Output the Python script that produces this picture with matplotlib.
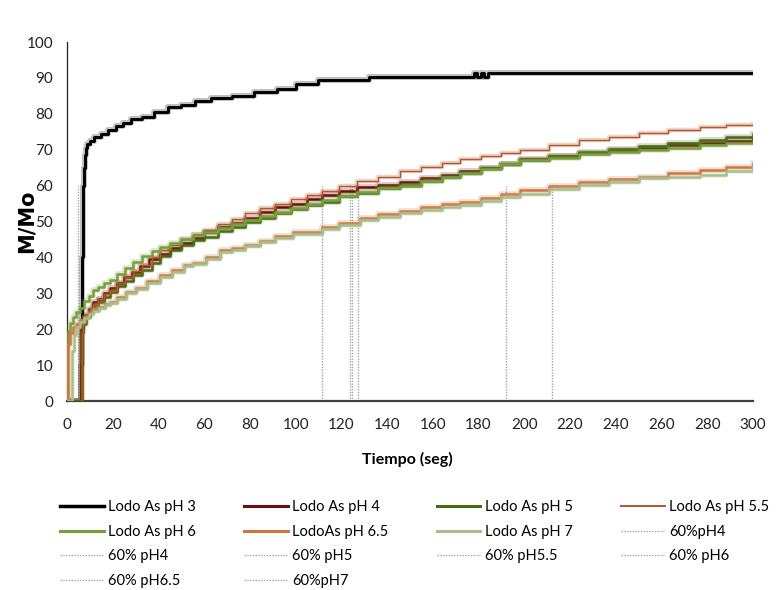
import matplotlib
matplotlib.use("Agg")
import matplotlib.pyplot as plt
import matplotlib.patheffects as pe
from matplotlib.lines import Line2D

plt.rcParams['font.family'] = ['Lato', 'DejaVu Sans']

# Lodo As pH 3
t_ph3 = [0, 6.0, 6.2, 6.4, 6.6, 6.8, 7.0, 7.3, 7.7, 8.2, 8.8, 10, 12, 15, 18, 21.5, 24.5, 28, 33, 38,
         44, 50, 56, 63, 72, 82, 92, 100, 110, 132, 178, 179.5, 181, 182.5, 184, 186, 300]
v_ph3 = [0, 0, 10, 25, 40, 52, 60, 65, 68.5, 70.5, 71.5, 72.5, 73.5, 74.5, 75.5, 76.5, 77.5, 78.5, 79, 80.5,
         82, 82.5, 83.5, 84.5, 85, 86, 87, 88.3, 89.4, 90.3, 91.3, 90.3, 91.3, 90.3, 91.3, 91.3, 91.3]

# Lodo As pH 4
t_ph4 = [0, 5.8, 6.2, 7, 8, 9.5, 11.5, 13.5, 16, 18.8, 22, 25, 28.5, 32, 36, 40.7, 45, 50, 55, 60,
         66, 72, 78, 84.4, 91, 98, 105, 111.5, 119, 127, 136, 145.6, 155, 164, 172, 181, 190, 198,
         211, 224, 237, 250, 263, 277, 288, 300]
v_ph4 = [0, 0, 20, 22.5, 24, 25.5, 27.5, 28.5, 30, 31.5, 33, 34.5, 36, 37.5, 39.5, 41, 42.5, 44, 45.5, 47,
         48.5, 49.5, 51, 52.7, 54, 55, 56.3, 57.4, 58.5, 59.5, 60.3, 61, 62, 63, 64, 65, 66, 67.5,
         68.3, 69.2, 70, 70.5, 71.3, 72, 72.5, 73]

# Lodo As pH 5
t_ph5 = [0, 6.0, 6.4, 7.2, 8.5, 10, 11.5, 13.5, 16, 18.8, 22, 25.5, 29, 33, 37, 40.7, 45, 50, 55, 60,
         66, 72, 78, 84.4, 91, 98, 105, 111.5, 119, 127, 136, 145.6, 155, 164, 172, 181, 190, 198,
         211, 224, 237, 250, 263, 277, 288, 300]
v_ph5 = [0, 0, 19, 21.5, 23.5, 25, 26.5, 27.5, 29, 30.5, 32, 33.5, 35, 36.5, 38.5, 40.5, 42, 43.5, 44.8, 45.8,
         47.3, 48.5, 49.8, 51, 52.3, 53.5, 54.5, 55.5, 57, 58, 59.2, 60.2, 61.3, 62.5, 63.5, 64.8, 66, 67.2,
         68.3, 69.3, 70.3, 71, 71.8, 72.7, 73.5, 74.3]

# Lodo As pH 5.5
t_ph55 = [0, 6.0, 6.4, 7.2, 8.5, 10, 11.5, 13.5, 16, 18.8, 22, 25.5, 29, 33, 37, 40.7, 45, 50, 55, 60,
          66, 72, 78, 84.4, 91, 98, 105, 111.5, 119, 127, 136, 145.6, 155, 164, 172, 181, 190, 198,
          211, 224, 237, 250, 263, 277, 288, 300]
v_ph55 = [0, 0, 19, 22, 24, 25.5, 27, 28.3, 29.8, 31, 32.8, 34.5, 36.2, 38, 40, 42, 43.5, 45, 46.4, 47.5,
          49.3, 50.8, 52.3, 53.7, 55, 56.3, 57.5, 58.5, 60, 61.3, 62.5, 64, 65.2, 66.4, 67.5, 68.3, 69.2, 70,
          71.3, 72.6, 73.6, 74.6, 75.4, 76.2, 76.8, 77.3]

# Lodo As pH 6
t_ph6 = [0, 0.1, 0.5, 1.3, 2.5, 4, 5.7, 7.5, 9.5, 11.5, 13.5, 16, 18.8, 22, 25.5, 29, 33, 37, 40.7, 45,
         50, 55, 60, 66, 72, 78, 84.4, 91, 98, 105, 111.5, 119, 127, 136, 145.6, 155, 164, 172, 181,
         190, 198, 211, 224, 237, 250, 263, 277, 288, 300]
v_ph6 = [0, 16, 19.5, 21.7, 23.3, 24.7, 26, 27.8, 29.3, 30.9, 31.8, 32.8, 33.7, 35.5, 37, 38.8, 40.3, 41.8, 43, 44,
         45.2, 46.2, 47, 48.2, 49.2, 50.3, 51.5, 52.6, 53.8, 55, 56, 57.2, 58.3, 59.2, 60, 61.2, 62.4, 63.5, 64.7,
         66, 67.2, 67.8, 68.7, 69.4, 70, 70.6, 71.3, 71.8, 72.2]

# LodoAs pH 6.5
t_ph65 = [0, 0.3, 0.6, 1.3, 2.5, 4, 5.7, 7.5, 9.5, 11.5, 14, 16.5, 18.8, 22, 26, 30, 35, 40.7, 46, 51,
          55, 61, 67, 72, 78, 84.4, 91, 99, 111.5, 119, 128, 136, 145.6, 155, 164, 172, 181, 190, 198,
          211, 224, 237, 250, 263, 277, 288, 300]
v_ph65 = [0, 8, 16, 19, 20.5, 21.5, 22.5, 23.5, 24.5, 25.5, 26.3, 27, 27.5, 29, 30.5, 31.5, 33.5, 35, 36.5, 38,
          38.5, 40, 42, 42.5, 43.5, 44.5, 46, 47, 48.5, 49.5, 51, 52, 53, 54, 54.8, 55.5, 56.5, 57.7, 58.8,
          60, 61.1, 61.8, 62.5, 63.4, 64.3, 65.2, 66.2]

# Lodo As pH 7
t_ph7 = [0, 2.0, 2.4, 3, 4, 5.7, 7.5, 9.5, 11.5, 14, 16.5, 18.8, 22, 26, 30, 35, 40.7, 46, 51, 55,
         61, 67, 72, 78, 84.4, 91, 99, 111.5, 119, 128, 136, 145.6, 155, 164, 172, 181, 190, 198, 211,
         224, 237, 250, 263, 277, 288, 300]
v_ph7 = [0, 0, 14, 18.5, 20.5, 22, 23.2, 24.3, 25.2, 26, 26.7, 27.2, 28.5, 30, 31.2, 33, 34.6, 36, 37.5, 38.2,
         39.5, 41.5, 42.2, 43.2, 44.2, 45.4, 46.5, 48, 49, 50.3, 51.3, 52.3, 53.3, 54, 54.7, 55.6, 56.8, 57.8, 59,
         60.2, 61, 62, 62.5, 63, 64, 65.1]

# 60% markers (time where each run reaches 60)
t60_labels = ['60%pH4', '60% pH4', '60% pH5', '60% pH5.5', '60% pH6', '60% pH6.5', '60%pH7']
t60_values = [4.7, 123.8, 127.4, 111.5, 124.5, 192.0, 212.2]
level60 = 60

series = [
    ('Lodo As pH 3', t_ph3, v_ph3, '#000000', 2.1),
    ('Lodo As pH 4', t_ph4, v_ph4, '#6b0f0a', 1.8),
    ('Lodo As pH 5', t_ph5, v_ph5, '#4a6a12', 1.8),
    ('Lodo As pH 5.5', t_ph55, v_ph55, '#b4562a', 1.0),
    ('Lodo As pH 6', t_ph6, v_ph6, '#76a03c', 1.8),
    ('LodoAs pH 6.5', t_ph65, v_ph65, '#d2743c', 1.8),
    ('Lodo As pH 7', t_ph7, v_ph7, '#a8bf8c', 1.8),
]

fig = plt.figure(figsize=(7.76, 5.9), dpi=100)
ax = fig.add_axes([0.0863, 0.3203, 0.884, 0.6085])

handles = []
for name, t, v, col, lw in series:
    ax.plot(t, v, drawstyle='steps-post', color=col, lw=lw, zorder=3,
            path_effects=[pe.Stroke(linewidth=lw + 2.2, foreground=col, alpha=0.25), pe.Normal()])
    handles.append(Line2D([], [], color=col, lw=lw + 0.4, label=name))

for lab, tv in zip(t60_labels, t60_values):
    ln, = ax.plot([tv, tv], [0, level60], color='#a6a6a6', lw=1.0, ls=(0, (1, 1)), label=lab, zorder=2)
    handles.append(ln)

ax.set_xlim(0, 300)
ax.set_ylim(0, 100)
ax.set_xticks(range(0, 301, 20))
ax.set_yticks(range(0, 101, 10))
ax.tick_params(length=0, labelsize=11, colors='#222222')
ax.tick_params(axis='y', pad=10)
ax.tick_params(axis='x', pad=12)
for s in ['top', 'right']:
    ax.spines[s].set_visible(False)
ax.spines['left'].set_color('#222222')
ax.spines['left'].set_linewidth(0.9)
ax.spines['bottom'].set_color('#404040')
ax.spines['bottom'].set_linewidth(1.6)

fig.text(27 / 776, 1 - 221 / 590, 'M/Mo', rotation=90, ha='center', va='center',
         fontsize=15, fontweight='bold', family=['DejaVu Sans'])
fig.text(407 / 776, 1 - 459 / 590, 'Tiempo (seg)', ha='center', va='center',
         fontsize=11.5, fontweight='bold')

# matplotlib fills legend columns first; reorder so it reads row by row like the original
order = [0, 4, 8, 12, 1, 5, 9, 13, 2, 6, 10, 3, 7, 11]
leg = fig.legend(handles=[handles[i] for i in order], loc='upper left', bbox_to_anchor=(60 / 776, 0.152),
                 ncol=4, frameon=False, fontsize=10.5, handlelength=3.0, handletextpad=0.3,
                 columnspacing=3.3, labelspacing=0.72, borderaxespad=0, borderpad=0)

fig.savefig('out.png', dpi=100)
